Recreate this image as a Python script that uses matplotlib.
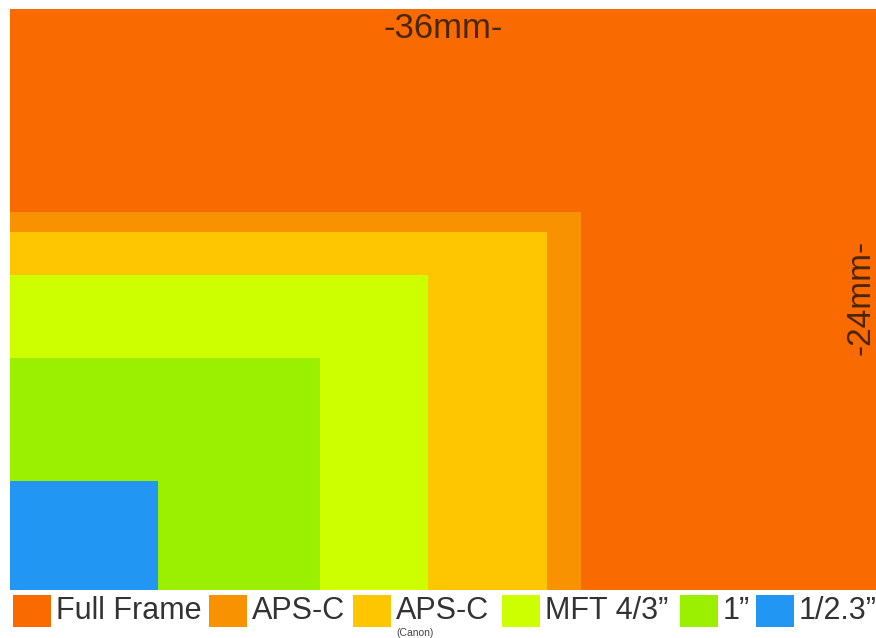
import matplotlib
matplotlib.use("Agg")
import matplotlib.pyplot as plt
from matplotlib.patches import Rectangle

# sensor sizes in mm, largest first (drawn back to front)
sensor_names = ["Full Frame", "APS-C", "APS-C", "MFT 4/3\u201d", "1\u201d", "1/2.3\u201d"]
sensor_widths = [36.0, 23.6, 22.2, 17.3, 12.8, 6.1]
sensor_heights = [24.0, 15.6, 14.8, 13.0, 9.6, 4.5]
sensor_colors = ["#F96A00", "#F99200", "#FDC600", "#CDFF00", "#9BEF00", "#2196F3"]
sub_labels = ["", "", "(Canon)", "", "", ""]

# legend square left edges, in pixels
legend_x = [13, 209, 353, 502, 680, 756]

plt.rcParams["font.family"] = ["Liberation Sans", "DejaVu Sans"]

W, H = 876, 638
fig = plt.figure(figsize=(W / 100, H / 100), dpi=100)
fig.patch.set_facecolor("white")

# plot area: left edge at px 10, top at px 9, bottom at px 590
ax = fig.add_axes([10 / W, 48 / H, 1 - 10 / W, (590 - 9) / H])
ax.set_xlim(0, 35.8)
ax.set_ylim(0, 24)
ax.axis("off")

for w, h, c in zip(sensor_widths, sensor_heights, sensor_colors):
    ax.add_patch(Rectangle((0, 0), w, h, facecolor=c, edgecolor="none"))

ax.text(17.9, 23.2, "-36mm-", ha="center", va="center", fontsize=25,
        color="#4a2604")
ax.text(35.2, 12.1, "-24mm-", ha="center", va="center", fontsize=24,
        color="#4a2604", rotation=90)

# legend row drawn in figure pixels
sq_w, sq_h = 38, 32
y_sq = H - 627
y_txt = H - 611
for name, c, sub, x in zip(sensor_names, sensor_colors, sub_labels, legend_x):
    fig.patches.append(Rectangle((x / W, y_sq / H), sq_w / W, sq_h / H,
                                 facecolor=c, edgecolor="none",
                                 transform=fig.transFigure, figure=fig))
    tx = x + 43
    fig.text(tx / W, y_txt / H, name, ha="left", va="center",
             fontsize=22, color="#333333")
    if sub:
        fig.text(tx / W, (H - 633) / H, sub, ha="left", va="center",
                 fontsize=7.5, color="#444444")

fig.savefig("out.png", dpi=100, facecolor="white")
